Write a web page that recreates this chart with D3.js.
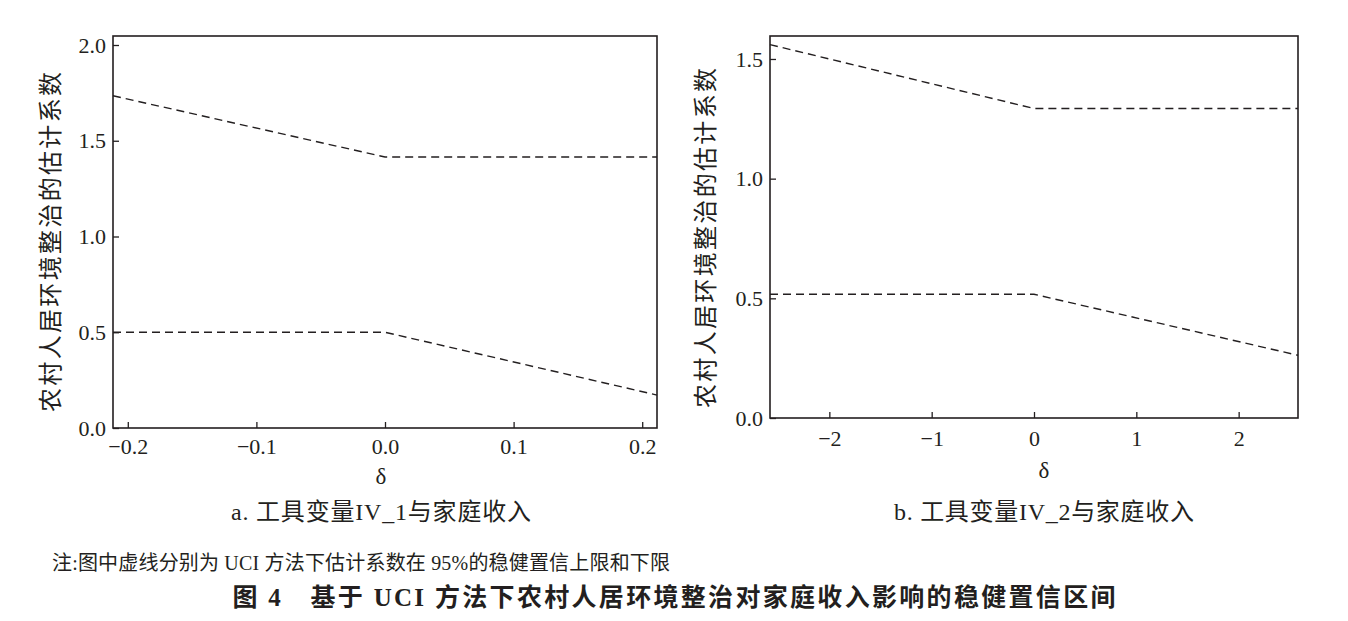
<!DOCTYPE html>
<html>
<head>
<meta charset="utf-8">
<script src="https://cdn.jsdelivr.net/npm/d3@7"></script>
<style>
body { margin: 0; background: #fff; }
svg text { fill: #231f20; }
.num { font-family: "Liberation Serif", "DejaVu Serif", serif; }
.cjk { font-family: "Liberation Serif", "Noto Sans CJK SC", serif; }
</style>
</head>
<body>
<div id="chart"></div>
<script>
// panel a: delta range and bounds
var deltaA = [-0.2115, 0, 0.2115];
var upperA = [1.735, 1.415, 1.415];
var lowerA = [0.5, 0.5, 0.172];
var xTicksA = [-0.2, -0.1, 0.0, 0.1, 0.2];
var yTicksA = [0.0, 0.5, 1.0, 1.5, 2.0];

// panel b
var deltaB = [-2.58, 0, 2.58];
var upperB = [1.56, 1.293, 1.293];
var lowerB = [0.517, 0.517, 0.262];
var xTicksB = [-2, -1, 0, 1, 2];
var yTicksB = [0.0, 0.5, 1.0, 1.5];

var yLabel = "农村人居环境整治的估计系数";
var note = "注:图中虚线分别为 UCI 方法下估计系数在 95%的稳健置信上限和下限";
var title = "图 4　基于 UCI 方法下农村人居环境整治对家庭收入影响的稳健置信区间";

var svg = d3.select("#chart").append("svg")
    .attr("width", 1348)
    .attr("height", 621);

function drawPanel(opt) {
    var g = svg.append("g")
        .attr("transform", "translate(" + opt.left + "," + opt.top + ")");

    var x = d3.scaleLinear().domain(opt.xDomain).range([0, opt.width]);
    var y = d3.scaleLinear().domain(opt.yDomain).range([opt.height, 0]);

    var xAxis = d3.axisBottom(x).tickValues(opt.xTicks).tickSizeInner(-6).tickSizeOuter(0)
        .tickPadding(opt.xPad).tickFormat(opt.xFormat);
    var yAxis = d3.axisLeft(y).tickValues(opt.yTicks).tickSizeInner(-6).tickSizeOuter(0)
        .tickPadding(7).tickFormat(d3.format(".1f"));

    g.append("g").attr("transform", "translate(0," + opt.height + ")").call(xAxis)
        .call(s => s.select(".domain").remove());
    g.append("g").call(yAxis).call(s => s.select(".domain").remove());

    g.selectAll(".tick line").attr("stroke", "#231f20").attr("stroke-width", 1.3);
    g.selectAll(".tick text")
        .attr("class", "num")
        .style("font-size", "22px")
        .attr("fill", "#231f20");

    // frame
    g.append("rect")
        .attr("width", opt.width)
        .attr("height", opt.height)
        .attr("fill", "none")
        .attr("stroke", "#231f20")
        .attr("stroke-width", 1.6);

    var line = d3.line().x(d => x(d[0])).y(d => y(d[1]));
    [opt.upper, opt.lower].forEach(function(vals) {
        g.append("path")
            .datum(opt.delta.map((d, i) => [d, vals[i]]))
            .attr("d", line)
            .attr("fill", "none")
            .attr("stroke", "#231f20")
            .attr("stroke-width", 1.4)
            .attr("stroke-dasharray", "8,5");
    });

    g.append("text")
        .attr("class", "num")
        .attr("x", opt.width / 2 + opt.capShift)
        .attr("y", opt.height + opt.deltaY)
        .attr("text-anchor", "middle")
        .style("font-size", "23px")
        .text("δ");

    g.append("text")
        .attr("class", "cjk")
        .attr("transform", "translate(" + opt.yLabelX + "," + opt.yLabelY + ") rotate(-90)")
        .attr("text-anchor", "middle")
        .attr("dy", "0.35em")
        .attr("textLength", 340)
        .attr("lengthAdjust", "spacing")
        .style("font-size", "24px")
        .text(yLabel);

    g.append("text")
        .attr("class", "cjk")
        .attr("x", opt.width / 2 + opt.capShift)
        .attr("y", opt.height + opt.capY)
        .attr("text-anchor", "middle")
        .attr("textLength", 300)
        .attr("lengthAdjust", "spacing")
        .style("font-size", "24px")
        .text(opt.caption);
}

drawPanel({
    left: 113, top: 36, width: 544, height: 392,
    xDomain: [deltaA[0], deltaA[2]], yDomain: [0, 2.047],
    xTicks: xTicksA, yTicks: yTicksA, xPad: 10,
    xFormat: d => d3.format(".1f")(d).replace("-", "−"),
    delta: deltaA, upper: upperA, lower: lowerA,
    yLabelX: -62, yLabelY: 206,
    deltaY: 56, capY: 92, capShift: -4,
    caption: "a. 工具变量IV_1与家庭收入"
});

drawPanel({
    left: 770, top: 36, width: 528, height: 382,
    xDomain: [deltaB[0], deltaB[2]], yDomain: [0, 1.596],
    xTicks: xTicksB, yTicks: yTicksB, xPad: 12,
    xFormat: d => String(d).replace("-", "−"),
    delta: deltaB, upper: upperB, lower: lowerB,
    yLabelX: -64, yLabelY: 202,
    deltaY: 60, capY: 102, capShift: 10,
    caption: "b. 工具变量IV_2与家庭收入"
});

svg.append("text")
    .attr("class", "cjk")
    .attr("x", 52)
    .attr("y", 570)
    .attr("textLength", 618)
    .attr("lengthAdjust", "spacing")
    .style("font-size", "20px")
    .text(note);

svg.append("text")
    .attr("x", 674)
    .attr("y", 606)
    .attr("text-anchor", "middle")
    .attr("textLength", 883)
    .attr("lengthAdjust", "spacing")
    .style("font-family", "\"Liberation Serif\", \"Noto Sans CJK SC\", serif")
    .style("font-weight", "bold")
    .style("font-size", "25px")
    .text(title);
</script>
</body>
</html>
